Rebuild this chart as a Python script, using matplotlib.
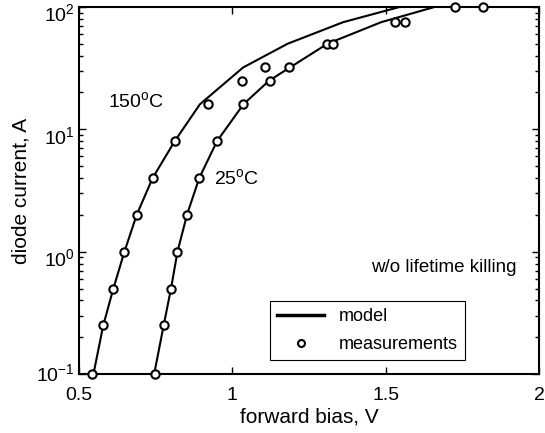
import matplotlib
matplotlib.use("Agg")
import matplotlib.pyplot as plt
from matplotlib.lines import Line2D
from matplotlib.ticker import LogLocator, NullFormatter, FixedLocator
from matplotlib.transforms import ScaledTranslation

plt.rcParams['font.family'] = ['Liberation Sans', 'DejaVu Sans']
plt.rcParams['mathtext.fontset'] = 'custom'
plt.rcParams['mathtext.rm'] = 'Liberation Sans'
plt.rcParams['mathtext.it'] = 'Liberation Sans:italic'

# measurements
meas150_v = [0.542, 0.579, 0.612, 0.648, 0.688, 0.740, 0.812, 0.922, 1.030, 1.108, 1.310, 1.532, 1.727]
meas150_i = [0.1, 0.25, 0.5, 1, 2, 4, 8, 16, 25, 32, 50, 75, 100]
meas25_v = [0.748, 0.776, 0.800, 0.821, 0.852, 0.892, 0.950, 1.036, 1.123, 1.185, 1.329, 1.563, 1.818]
meas25_i = [0.1, 0.25, 0.5, 1, 2, 4, 8, 16, 25, 32, 50, 75, 100]

# model curves
model150_v = [0.547, 0.579, 0.612, 0.648, 0.688, 0.740, 0.812, 0.894, 1.035, 1.180, 1.361, 1.546]
model150_i = [0.1, 0.25, 0.5, 1, 2, 4, 8, 16, 32, 50, 75, 100]
model25_v = [0.745, 0.776, 0.800, 0.821, 0.852, 0.892, 0.950, 1.036, 1.120, 1.310, 1.485, 1.660]
model25_i = [0.1, 0.25, 0.5, 1, 2, 4, 8, 16, 25, 50, 75, 100]

x_ticks = [0.5, 1, 1.5, 2]
x_ticklabels = ['0.5', '1', '1.5', '2']

fig = plt.figure(figsize=(5.45, 4.33), dpi=100)
ax = fig.add_axes([0.145, 0.136, 0.844, 0.848])

ax.plot(model150_v, model150_i, color='black', lw=1.5, clip_on=True)
ax.plot(model25_v, model25_i, color='black', lw=1.5, clip_on=True)
ax.plot(meas150_v, meas150_i, linestyle='none', marker='o', mfc='white', mec='black',
        mew=1.5, ms=6, clip_on=False, zorder=5)
ax.plot(meas25_v, meas25_i, linestyle='none', marker='o', mfc='white', mec='black',
        mew=1.5, ms=6, clip_on=False, zorder=5)

ax.set_yscale('log')
ax.set_xlim(0.5, 2)
ax.set_ylim(0.1, 100)
ax.xaxis.set_major_locator(FixedLocator(x_ticks))
ax.set_xticklabels(x_ticklabels)
ax.yaxis.set_major_locator(LogLocator(base=10, numticks=10))
ax.yaxis.set_minor_locator(LogLocator(base=10, subs=range(2, 10), numticks=10))
ax.yaxis.set_minor_formatter(NullFormatter())

ax.tick_params(axis='both', which='both', direction='in', top=True, right=True,
               labelsize=14, width=1.0)
ax.tick_params(which='major', length=5)
ax.tick_params(which='minor', length=3)
ax.tick_params(axis='x', pad=9)
ax.tick_params(axis='y', pad=3)
for s in ax.spines.values():
    s.set_linewidth(1.5)

ax.set_xlabel('forward bias, V', fontsize=15, labelpad=3)
ax.set_ylabel('diode current, A', fontsize=15, labelpad=4)

ax.text(0.594, 17, r'150$^{\mathrm{o}}$C', fontsize=14, ha='left', va='center')
ax.text(0.94, 4.0, r'25$^{\mathrm{o}}$C', fontsize=14, ha='left', va='center')
ax.text(1.927, 0.74, 'w/o lifetime killing', fontsize=13.5, ha='right', va='center')

handles = [Line2D([], [], color='black', lw=2.5),
           Line2D([], [], color='black', linestyle='none', marker='o', mfc='white',
                  mec='black', mew=1.5, ms=5)]
leg = ax.legend(handles, ['model', 'measurements'], loc='lower left',
                bbox_to_anchor=(0.415, 0.038), fontsize=13, fancybox=False,
                edgecolor='black', framealpha=1, handlelength=2.6, borderpad=0.4,
                labelspacing=0.6, borderaxespad=0)
leg.get_frame().set_linewidth(0.8)

# shift upper y tick labels slightly down (as in the reference)
fig.canvas.draw()
for tick in ax.yaxis.get_major_ticks():
    if tick.get_loc() > 0.11:
        tick.label1.set_transform(tick.label1.get_transform() +
                                  ScaledTranslation(0, -4 / 72, fig.dpi_scale_trans))
    else:
        tick.label1.set_transform(tick.label1.get_transform() +
                                  ScaledTranslation(0, 1.5 / 72, fig.dpi_scale_trans))

fig.savefig('out.png', dpi=100)
